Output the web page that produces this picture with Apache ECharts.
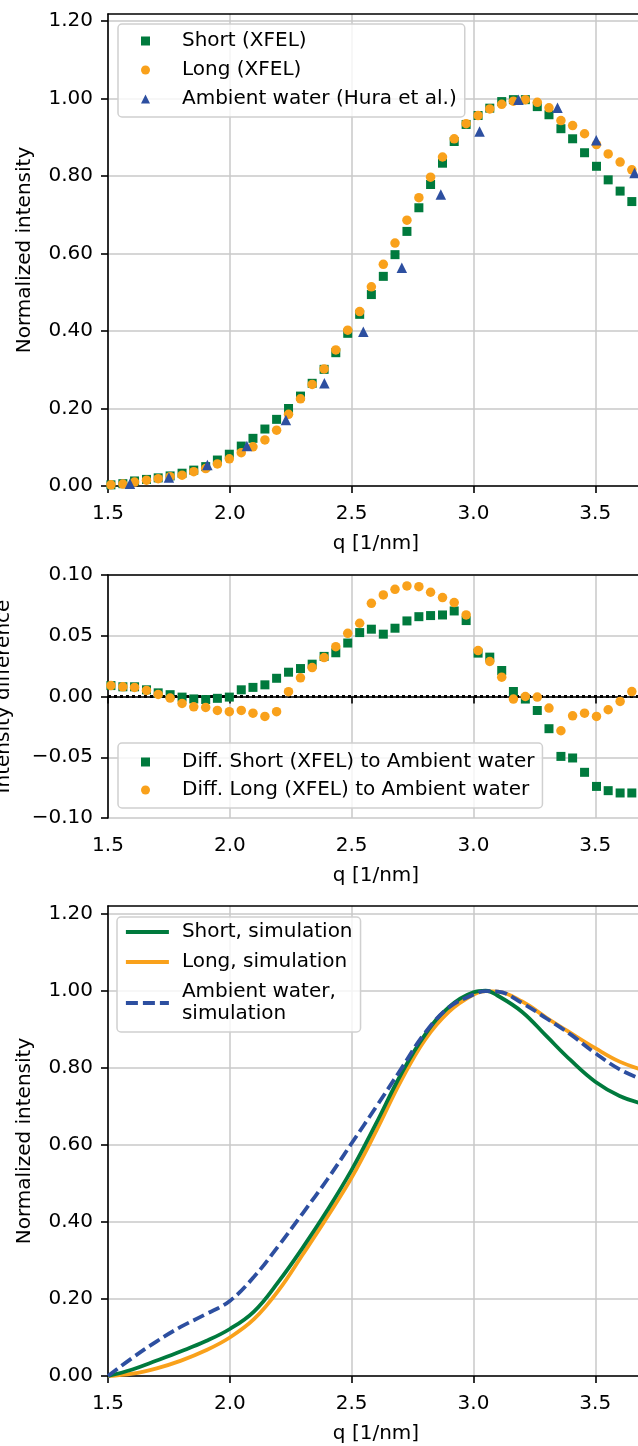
<!DOCTYPE html>
<html>
<head>
<meta charset="utf-8">
<script src="https://cdn.jsdelivr.net/npm/echarts@6/dist/echarts.min.js"></script>
<style>
  html, body { margin: 0; padding: 0; background: #fff; }
  #chart { width: 638px; height: 1446px; }
</style>
</head>
<body>
<div id="chart"></div>
<script>
// q values of the XFEL points [1/nm]
const qXfel = [1.512, 1.561, 1.609, 1.658, 1.706, 1.755, 1.804, 1.852, 1.901, 1.949,
  1.998, 2.047, 2.095, 2.144, 2.192, 2.241, 2.290, 2.338, 2.387, 2.435,
  2.484, 2.533, 2.581, 2.630, 2.678, 2.727, 2.776, 2.824, 2.873, 2.921,
  2.970, 3.019, 3.067, 3.116, 3.164, 3.213, 3.262, 3.310, 3.359, 3.407,
  3.456, 3.505, 3.553, 3.602, 3.650];
const shortXfel = [0.003, 0.006, 0.013, 0.017, 0.021, 0.026, 0.033, 0.041, 0.050, 0.067,
  0.082, 0.103, 0.123, 0.147, 0.172, 0.200, 0.232, 0.265, 0.301, 0.344,
  0.394, 0.443, 0.494, 0.541, 0.597, 0.657, 0.718, 0.778, 0.833, 0.889,
  0.933, 0.956, 0.975, 0.992, 0.997, 0.997, 0.979, 0.958, 0.922, 0.896,
  0.860, 0.825, 0.790, 0.761, 0.734];
const longXfel = [0.003, 0.005, 0.010, 0.015, 0.019, 0.024, 0.028, 0.037, 0.045, 0.057,
  0.070, 0.086, 0.101, 0.119, 0.144, 0.185, 0.225, 0.262, 0.302, 0.351,
  0.402, 0.450, 0.514, 0.572, 0.627, 0.686, 0.744, 0.797, 0.849, 0.896,
  0.935, 0.956, 0.973, 0.985, 0.993, 0.997, 0.990, 0.976, 0.943, 0.930,
  0.909, 0.881, 0.857, 0.836, 0.816];

// Hura et al. ambient water
const qHura = [1.590, 1.750, 1.908, 2.070, 2.230, 2.388, 2.548, 2.706, 2.866, 3.025, 3.185, 3.345, 3.504, 3.661];
const huraAmbient = [0.006, 0.022, 0.054, 0.103, 0.170, 0.265, 0.398, 0.563, 0.752, 0.915, 0.997, 0.976, 0.892, 0.808];

// differences to ambient water (same q as XFEL)
const diffShort = [0.009, 0.008, 0.008, 0.0055, 0.003, 0.0015, -0.0005, -0.002, -0.0025, -0.0015,
  -0.0005, 0.0055, 0.0075, 0.0096, 0.015, 0.020, 0.023, 0.0266, 0.033, 0.036,
  0.044, 0.0526, 0.0554, 0.0513, 0.0562, 0.0622, 0.0657, 0.0666, 0.0671, 0.0704,
  0.0625, 0.0357, 0.0324, 0.0214, 0.0041, -0.0021, -0.0115, -0.0265, -0.0493, -0.0506,
  -0.0624, -0.074, -0.0775, -0.0794, -0.0794];
const diffLong = [0.009, 0.008, 0.0075, 0.005, 0.0017, -0.0013, -0.0057, -0.0085, -0.009, -0.0115,
  -0.0125, -0.0115, -0.0137, -0.0164, -0.0125, 0.004, 0.0154, 0.0238, 0.032, 0.041,
  0.052, 0.0603, 0.0767, 0.0836, 0.0882, 0.091, 0.0904, 0.0858, 0.0814, 0.0773,
  0.0671, 0.0378, 0.0288, 0.0159, -0.0021, 0.0, -0.0005, -0.0095, -0.0282, -0.0159,
  -0.0137, -0.0164, -0.0109, -0.0041, 0.0041];
// zero reference of the difference panel
const zeroQ = [1.5, 3.7];
const zeroDiff = [0, 0];

// simulation curves
const qSim = [1.5, 1.6, 1.7, 1.8, 1.9, 2.0, 2.1, 2.2, 2.3, 2.4, 2.5, 2.6, 2.7, 2.8, 2.9,
  3.0, 3.05, 3.1, 3.2, 3.3, 3.4, 3.5, 3.6, 3.7];
const shortSim = [0, 0.017, 0.04, 0.064, 0.09, 0.122, 0.168, 0.245, 0.334, 0.43, 0.535, 0.655, 0.78, 0.885, 0.958,
  0.996, 1.0, 0.987, 0.945, 0.882, 0.819, 0.764, 0.727, 0.706];
const longSim = [0, 0.006, 0.02, 0.04, 0.066, 0.1, 0.148, 0.222, 0.316, 0.413, 0.515, 0.635, 0.763, 0.872, 0.946,
  0.99, 0.999, 0.998, 0.972, 0.93, 0.89, 0.851, 0.816, 0.793];
const ambientSim = [0, 0.047, 0.09, 0.128, 0.16, 0.195, 0.258, 0.338, 0.423, 0.51, 0.604, 0.698, 0.794, 0.89, 0.957,
  0.99, 0.999, 0.998, 0.968, 0.928, 0.886, 0.838, 0.796, 0.768];

const qTicks = [1.5, 2.0, 2.5, 3.0, 3.5];
const intensityTicks = [0, 0.2, 0.4, 0.6, 0.8, 1.0, 1.2];

const GREEN = '#007a3d';
const ORANGE = '#f9a11b';
const BLUE = '#2d4fa0';
const FONT = 'DejaVu Sans';

function pairs(xs, ys) {
  return xs.map((x, i) => [x, ys[i]]);
}

const gridLine = { show: true, lineStyle: { color: '#c8c8c8', width: 1.5 } };
const spine = { show: true, lineStyle: { color: '#000', width: 1.6 } };

function bottomAxis(gridIndex) {
  return {
    type: 'value', gridIndex: gridIndex, position: 'bottom',
    min: 1.5, max: 3.7, interval: 0.5,
    name: 'q [1/nm]', nameLocation: 'middle', nameGap: 47,
    nameTextStyle: { fontSize: 20, color: '#000', fontFamily: FONT, lineHeight: 22 },
    axisLine: spine,
    axisTick: { show: true, inside: false, length: 7, customValues: qTicks, lineStyle: { color: '#000', width: 1.6 } },
    axisLabel: { fontSize: 20, color: '#000', fontFamily: FONT, margin: 17, lineHeight: 22,
      customValues: qTicks, formatter: v => v.toFixed(1) },
    splitLine: gridLine
  };
}
function topAxis(gridIndex) {
  return {
    type: 'value', gridIndex: gridIndex, position: 'top',
    min: 1.5, max: 3.7,
    axisLine: spine, axisTick: { show: false }, axisLabel: { show: false }, splitLine: { show: false }
  };
}
function intensityAxis(gridIndex, max) {
  return {
    type: 'value', gridIndex: gridIndex,
    min: 0, max: max, interval: 0.2,
    name: 'Normalized intensity', nameLocation: 'middle', nameGap: 72, nameRotate: 90,
    nameTextStyle: { fontSize: 20, color: '#000', fontFamily: FONT, lineHeight: 22 },
    axisLine: spine,
    axisTick: { show: true, length: 7, customValues: intensityTicks, lineStyle: { color: '#000', width: 1.6 } },
    axisLabel: { fontSize: 20, color: '#000', fontFamily: FONT, margin: 15, customValues: intensityTicks,
      formatter: v => v.toFixed(2) },
    splitLine: gridLine
  };
}

const legendBase = {
  orient: 'vertical', align: 'left',
  backgroundColor: 'rgba(255,255,255,0.8)',
  borderColor: '#d0d0d0', borderWidth: 1.5, borderRadius: 4,
  textStyle: { fontSize: 20, color: '#000', fontFamily: FONT, lineHeight: 22 }
};

const chart = echarts.init(document.getElementById('chart'), null, { renderer: 'canvas' });

const option = {
  animation: false,
  backgroundColor: '#fff',
  grid: [
    { left: 108, top: 14, height: 472, right: -6, outerBoundsMode: 'none' },
    { left: 108, top: 575, height: 243, right: -6, outerBoundsMode: 'none' },
    { left: 108, top: 906, height: 470, right: -6, outerBoundsMode: 'none' }
  ],
  xAxis: [bottomAxis(0), bottomAxis(1), bottomAxis(2), topAxis(0), topAxis(1), topAxis(2)],
  yAxis: [
    intensityAxis(0, 1.218),
    {
      type: 'value', gridIndex: 1,
      min: -0.1, max: 0.1, interval: 0.05,
      name: 'Intensity difference', nameLocation: 'middle', nameGap: 93, nameRotate: 90,
      nameTextStyle: { fontSize: 20, color: '#000', fontFamily: FONT, lineHeight: 22 },
      axisLine: spine,
      axisTick: { show: true, length: 7, lineStyle: { color: '#000', width: 1.6 } },
      axisLabel: { fontSize: 20, color: '#000', fontFamily: FONT, margin: 15,
        formatter: v => (v < -1e-9 ? '\u2212' : '') + Math.abs(v).toFixed(2) },
      splitLine: gridLine
    },
    intensityAxis(2, 1.22)
  ],
  legend: [
    Object.assign({}, legendBase, {
      left: 118, top: 24, padding: [6, 8, 7, 23], itemGap: 7,
      itemWidth: 9, itemHeight: 9,
      textStyle: Object.assign({}, legendBase.textStyle, { padding: [0, 0, 0, 27] }),
      data: [
        { name: 'Short (XFEL)', icon: 'rect' },
        { name: 'Long (XFEL)', icon: 'circle' },
        { name: 'Ambient water (Hura et al.)', icon: 'triangle' }
      ]
    }),
    Object.assign({}, legendBase, {
      left: 118, top: 743, padding: [8, 8, 7, 23], itemGap: 6,
      itemWidth: 9, itemHeight: 9,
      textStyle: Object.assign({}, legendBase.textStyle, { padding: [0, 0, 0, 27] }),
      data: [
        { name: 'Diff. Short (XFEL) to Ambient water', icon: 'rect' },
        { name: 'Diff. Long (XFEL) to Ambient water', icon: 'circle' }
      ]
    }),
    Object.assign({}, legendBase, {
      left: 117, top: 917, padding: [4, 8, 7, 7], itemGap: 8,
      itemWidth: 43, itemHeight: 14,
      itemStyle: { opacity: 0 },
      lineStyle: { width: 3.8 },
      textStyle: Object.assign({}, legendBase.textStyle, { padding: [0, 0, 0, 8] }),
      data: ['Short, simulation', 'Long, simulation', 'Ambient water,\nsimulation']
    })
  ],
  series: [
    // top panel: measured data
    {
      name: 'Short (XFEL)', type: 'scatter', xAxisIndex: 0, yAxisIndex: 0,
      symbol: 'rect', symbolSize: 9, z: 2,
      itemStyle: { color: GREEN, opacity: 1 },
      data: pairs(qXfel, shortXfel)
    },
    {
      name: 'Long (XFEL)', type: 'scatter', xAxisIndex: 0, yAxisIndex: 0,
      symbol: 'circle', symbolSize: 9.5, z: 3,
      itemStyle: { color: ORANGE, opacity: 1 },
      data: pairs(qXfel, longXfel)
    },
    {
      name: 'Ambient water (Hura et al.)', type: 'scatter', xAxisIndex: 0, yAxisIndex: 0,
      symbol: 'triangle', symbolSize: 10.5, z: 4,
      itemStyle: { color: BLUE, opacity: 1 },
      data: pairs(qHura, huraAmbient)
    },
    // middle panel: dotted zero line, then differences
    {
      name: 'zero', type: 'line', xAxisIndex: 1, yAxisIndex: 1,
      showSymbol: false, symbol: 'none', silent: true, z: 2,
      lineStyle: { color: '#000', width: 3, type: [3, 3] },
      data: pairs(zeroQ, zeroDiff)
    },
    {
      name: 'Diff. Short (XFEL) to Ambient water', type: 'scatter', xAxisIndex: 1, yAxisIndex: 1,
      symbol: 'rect', symbolSize: 9, z: 3,
      itemStyle: { color: GREEN, opacity: 1 },
      data: pairs(qXfel, diffShort)
    },
    {
      name: 'Diff. Long (XFEL) to Ambient water', type: 'scatter', xAxisIndex: 1, yAxisIndex: 1,
      symbol: 'circle', symbolSize: 9.5, z: 4,
      itemStyle: { color: ORANGE, opacity: 1 },
      data: pairs(qXfel, diffLong)
    },
    // bottom panel: simulations
    {
      name: 'Short, simulation', type: 'line', xAxisIndex: 2, yAxisIndex: 2,
      showSymbol: false, symbol: 'none', smooth: 0.4, z: 4,
      lineStyle: { color: GREEN, width: 3.8 }, itemStyle: { color: GREEN },
      data: pairs(qSim, shortSim)
    },
    {
      name: 'Long, simulation', type: 'line', xAxisIndex: 2, yAxisIndex: 2,
      showSymbol: false, symbol: 'none', smooth: 0.4, z: 3,
      lineStyle: { color: ORANGE, width: 3.8 }, itemStyle: { color: ORANGE },
      data: pairs(qSim, longSim)
    },
    {
      name: 'Ambient water,\nsimulation', type: 'line', xAxisIndex: 2, yAxisIndex: 2,
      showSymbol: false, symbol: 'none', smooth: 0.4, z: 5,
      lineStyle: { color: BLUE, width: 3.8, type: [12, 5] }, itemStyle: { color: BLUE },
      data: pairs(qSim, ambientSim)
    }
  ]
};

chart.setOption(option);
window.addEventListener('resize', function () {
  chart.resize();
});
</script>
</body>
</html>
